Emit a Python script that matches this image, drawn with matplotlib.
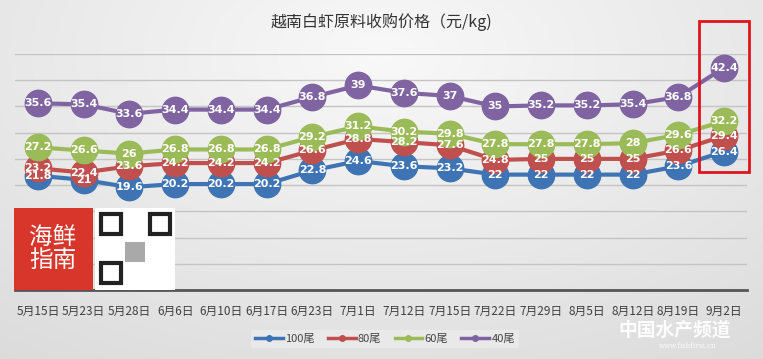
import matplotlib
matplotlib.use("Agg")
import matplotlib.pyplot as plt
import numpy as np
from matplotlib.patches import Rectangle

plt.rcParams['font.family'] = ['Noto Sans CJK SC', 'DejaVu Sans']

categories = ["5月15日", "5月23日", "5月28日", "6月6日", "6月10日", "6月17日", "6月23日", "7月1日",
              "7月12日", "7月15日", "7月22日", "7月29日", "8月5日", "8月12日", "8月19日", "9月2日"]
s100 = [21.8, 21, 19.6, 20.2, 20.2, 20.2, 22.8, 24.6, 23.6, 23.2, 22, 22, 22, 22, 23.6, 26.4]
s80 = [23.2, 22.4, 23.6, 24.2, 24.2, 24.2, 26.6, 28.8, 28.2, 27.6, 24.8, 25, 25, 25, 26.6, 29.4]
s60 = [27.2, 26.6, 26, 26.8, 26.8, 26.8, 29.2, 31.2, 30.2, 29.8, 27.8, 27.8, 27.8, 28, 29.6, 32.2]
s40 = [35.6, 35.4, 33.6, 34.4, 34.4, 34.4, 36.8, 39, 37.6, 37, 35, 35.2, 35.2, 35.4, 36.8, 42.4]
series_names = ["100尾", "80尾", "60尾", "40尾"]
colors = ["#3e74b4", "#c0504d", "#9bbb59", "#8064a2"]

W, H = 763, 359
fig = plt.figure(figsize=(W / 100, H / 100), dpi=100)

# background gradient
bg = fig.add_axes([0, 0, 1, 1], zorder=-10)
yy, xx = np.mgrid[0:1:200j, 0:1:400j]
d = np.sqrt(((xx - 0.5) / 0.9) ** 2 + ((yy - 0.15) / 1.1) ** 2)
g = 0.975 - 0.12 * np.clip(d, 0, 1)
bg.imshow(np.dstack([g, g, g]), aspect='auto', extent=[0, 1, 1, 0])
bg.set_axis_off()

def fx(px):
    return px / W

def fy(py):
    return 1 - py / H

ax = fig.add_axes([fx(15), fy(290), fx(747) - fx(15), fy(54) - fy(290)])
ax.set_facecolor('none')
ax.set_xlim(-0.5, len(categories) - 0.5)
ax.set_ylim(0, 45)
ax.set_yticks(np.arange(0, 46, 5))
ax.yaxis.grid(True, color='#c4c4c4', linewidth=1)
ax.set_axisbelow(True)
ax.tick_params(axis='y', left=False, labelleft=False)
ax.tick_params(axis='x', bottom=False, labelsize=8.5, labelcolor='#404040', pad=7)
ax.set_xticks(range(len(categories)))
ax.set_xticklabels(categories)
for sp in ['top', 'left', 'right']:
    ax.spines[sp].set_visible(False)
ax.spines['bottom'].set_color('#555555')
ax.spines['bottom'].set_linewidth(2)

x = np.arange(len(categories))
all_series = [s100, s80, s60, s40]
for i, (vals, c, name) in enumerate(zip(all_series, colors, series_names)):
    ax.plot(x, vals, color=c, linewidth=3, marker='o', markersize=19, clip_on=False,
            zorder=3 + i, label=name)
for vals in all_series:
    for xi, v in zip(x, vals):
        ax.text(xi, v, f"{v:g}", ha='center', va='center', color='white', fontsize=8,
                fontweight='bold', zorder=10, family=['DejaVu Sans'])

# red highlight box
fig.patches.append(Rectangle((fx(699), fy(172)), fx(749) - fx(699), fy(21) - fy(172),
                             transform=fig.transFigure, fill=False, edgecolor='#e0141c',
                             linewidth=2, zorder=20))

fig.text(0.5, fy(22), "越南白虾原料收购价格（元/kg)", ha='center', va='center', fontsize=11.5,
         color='#333333')

# legend
handles = [plt.Line2D([0], [0], color=c, linewidth=2.5, marker='o', markersize=4) for c in colors]
leg = fig.legend(handles, series_names, loc='center', bbox_to_anchor=(fx(385), fy(339)),
                 ncol=4, frameon=True, fontsize=8, handlelength=2.5, columnspacing=1.2,
                 handletextpad=0.2, borderpad=0.35)
leg.get_frame().set_facecolor('#ececec')
leg.get_frame().set_edgecolor('none')
for t in leg.get_texts():
    t.set_color('#444444')

# logo placeholder
fig.patches.append(Rectangle((fx(14), fy(290)), fx(93) - fx(14), fy(208) - fy(290),
                             transform=fig.transFigure, facecolor='#d8362b', edgecolor='none',
                             zorder=15))
fig.text(fx(53), fy(249), "海鲜\n指南", ha='center', va='center', color='white', fontsize=17,
         linespacing=1.0, zorder=16)
fig.patches.append(Rectangle((fx(95), fy(290)), fx(175) - fx(95), fy(208) - fy(290),
                             transform=fig.transFigure, facecolor='white', edgecolor='none',
                             zorder=15))
for (qx, qy) in [(101, 214), (150, 214), (101, 263)]:
    fig.patches.append(Rectangle((fx(qx), fy(qy + 20)), fx(20) - fx(0), fy(0) - fy(20),
                                 transform=fig.transFigure, facecolor='white',
                                 edgecolor='#222222', linewidth=3, zorder=16))
fig.patches.append(Rectangle((fx(125), fy(262)), fx(20) - fx(0), fy(0) - fy(20),
                             transform=fig.transFigure, facecolor='#555555', edgecolor='none',
                             zorder=16, alpha=0.5))

# watermark
fig.text(fx(675), fy(330), "中国水产频道", ha='center', va='center', color='white', fontsize=13.5,
         fontweight='bold', style='italic', alpha=0.95)
fig.text(fx(688), fy(346), "www.fishfirst.cn", ha='center', va='center', color='white',
         fontsize=5, alpha=0.9, family=['DejaVu Serif'])

fig.savefig("out.png", dpi=100)
